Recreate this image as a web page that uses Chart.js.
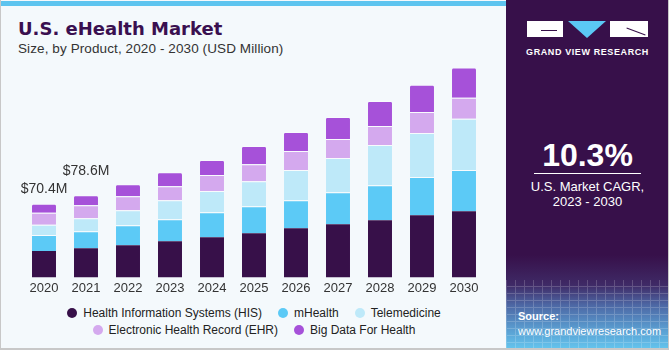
<!DOCTYPE html>
<html>
<head>
<meta charset="utf-8">
<script src="https://cdn.jsdelivr.net/npm/chart.js@4/dist/chart.umd.min.js"></script>
<style>
  html, body { margin:0; padding:0; width:670px; height:350px; overflow:hidden; background:#ffffff; font-family:"Liberation Sans", Arial, sans-serif; }
  #left { position:absolute; left:0; top:0; width:506px; height:350px; background:#f4f9fc; box-sizing:border-box; border-left:1px solid #c8c8c8; border-bottom:2px solid #c8c8c8; }
  #strip { position:absolute; left:0; top:1px; width:506px; height:5px; background:#5dc4ef; }
  #title { position:absolute; left:17px; top:18px; font-family:"DejaVu Sans", sans-serif; font-size:18px; font-weight:bold; color:#3a1050; }
  #subtitle { position:absolute; left:17px; top:41px; font-size:13.5px; color:#333333; letter-spacing:0.1px; }
  #wrap { position:absolute; left:0; top:-1px; width:506px; height:300px; }
  #legend { position:absolute; left:0; top:305px; width:506px; font-size:12px; color:#222; text-align:center; line-height:17px; }
  .li { display:inline-block; margin:0 8px; white-space:nowrap; }
  .dot { display:inline-block; width:10px; height:10px; border-radius:50%; margin-right:6px; vertical-align:-1px; }
  #right { position:absolute; left:506px; top:0; width:163px; height:350px; box-sizing:border-box; border-right:1px solid #c8c8c8; border-bottom:2px solid #c8c8c8;
    background: linear-gradient(to bottom, #37104a 0px, #37104a 255px, #3f2a66 285px, #4d67a4 305px, #5a9fd2 330px, #63c3ec 348px); overflow:hidden; }
  #grid { position:absolute; left:0; top:280px; width:163px; height:70px; opacity:0.18;
    background-image: repeating-linear-gradient(90deg, #ffffff 0 1px, transparent 1px 9px), repeating-linear-gradient(0deg, #ffffff 0 1px, transparent 1px 7px); }
  .logo { position:absolute; background:#ffffff; }
  .gl { position:absolute; background:#37104a; }
  #tri { position:absolute; left:62px; top:21px; width:0; height:0; border-left:19px solid transparent; border-right:19px solid transparent; border-top:17px solid #5bc8f5; }
  #gvr { position:absolute; left:0; width:163px; top:47px; text-align:center; font-size:9px; font-weight:bold; color:#ffffff; letter-spacing:0.6px; }
  #cagr { position:absolute; left:0; width:163px; top:137px; text-align:center; font-size:32px; font-weight:bold; color:#ffffff; }
  #line { position:absolute; left:28px; top:173px; width:107px; height:1px; background:#ffffff; }
  #cagrtxt { position:absolute; left:0; width:163px; top:179px; text-align:center; font-size:13px; color:#ffffff; line-height:15px; }
  #src { position:absolute; left:12px; top:309px; font-size:11px; color:#ffffff; line-height:15px; }
</style>
</head>
<body>
<div id="left">
  <div id="strip"></div>
  <div id="title">U.S. eHealth Market</div>
  <div id="subtitle">Size, by Product, 2020 - 2030 (USD Million)</div>
  <div id="wrap"><canvas id="c" width="506" height="300"></canvas></div>
  <div id="legend"></div>
</div>
<div id="right">
  <div id="grid"></div>
  <div class="logo" style="left:21px; top:21px; width:36px; height:16px;"></div>
  <div class="gl" style="left:35px; top:30px; width:16px; height:1px;"></div>
  <div id="tri"></div>
  <div class="logo" style="left:104px; top:21px; width:38px; height:16px;"></div>
  <div class="gl" style="left:120px; top:31px; width:20px; height:1px; transform:rotate(20deg);"></div>
  <div id="gvr">GRAND VIEW RESEARCH</div>
  <div id="cagr">10.3%</div>
  <div id="line"></div>
  <div id="cagrtxt">U.S. Market CAGR,<br>2023 - 2030</div>
  <div id="src"><b>Source:</b><br>www.grandviewresearch.com</div>
</div>
<script>
const years = ["2020","2021","2022","2023","2024","2025","2026","2027","2028","2029","2030"];
const seriesNames = ["Health Information Systems (HIS)","mHealth","Telemedicine","Electronic Health Record (EHR)","Big Data For Health"];
const seriesColors = ["#371049","#5ccaf6","#bee9f9","#d4a9ee","#a651d9"];
const his      = [25.3, 27.8, 30.7, 34.6, 38.4, 42.2, 47.0, 50.9, 54.7, 59.5, 63.4];
const mhealth  = [15.4, 16.3, 19.2, 21.1, 24.0, 25.9, 26.9, 30.7, 33.6, 36.5, 39.4];
const tele     = [9.6, 12.5, 14.4, 18.2, 20.2, 24.0, 28.8, 32.6, 38.4, 42.2, 49.0];
const ehr      = [11.5, 12.5, 13.4, 13.4, 15.4, 16.3, 18.2, 18.2, 18.2, 20.2, 20.2];
const bigdata  = [8.6, 9.6, 11.5, 13.4, 14.4, 17.3, 18.2, 21.1, 24.0, 25.9, 28.8];
const totalLabels = ["$70.4M", "$78.6M"];

const seriesValues = [his, mhealth, tele, ehr, bigdata];

const datasets = seriesValues.map((vals, i) => ({
  label: seriesNames[i],
  data: vals,
  backgroundColor: seriesColors[i],
  borderColor: "rgba(255,255,255,0.35)",
  borderWidth: i === 0 ? 0 : {top: 1, bottom: 0, left: 0, right: 0},
  borderSkipped: false,
  borderRadius: i === seriesValues.length - 1 ? {topLeft: 2, topRight: 2} : 0,
  barPercentage: 0.571,
  categoryPercentage: 1.0
}));

const labelGaps = [11, 20];
const labelPlugin = {
  id: "totals",
  afterDatasetsDraw(chart) {
    const ctx = chart.ctx;
    const meta = chart.getDatasetMeta(seriesValues.length - 1);
    ctx.save();
    ctx.font = "14px 'Liberation Sans', Arial, sans-serif";
    ctx.fillStyle = "#333333";
    ctx.textAlign = "center";
    ctx.textBaseline = "alphabetic";
    totalLabels.forEach((t, i) => {
      const bar = meta.data[i];
      ctx.fillText(t, bar.x, bar.y - labelGaps[i]);
    });
    ctx.restore();
  }
};

new Chart(document.getElementById("c"), {
  type: "bar",
  data: { labels: years, datasets },
  options: {
    responsive: false,
    animation: false,
    layout: { padding: { left: 22, right: 22, top: 59, bottom: 0 } },
    plugins: { legend: { display: false }, tooltip: { enabled: false } },
    scales: {
      x: {
        stacked: true,
        grid: { display: false, drawTicks: false },
        border: { display: false },
        ticks: { color: "#333333", font: { size: 13, family: "'Liberation Sans', Arial, sans-serif" }, padding: 3, maxRotation: 0 }
      },
      y: {
        stacked: true,
        display: false,
        min: 0,
        max: 210
      }
    }
  },
  plugins: [labelPlugin]
});

const lg = document.getElementById("legend");
const rows = [[0,1,2],[3,4]];
rows.forEach(r => {
  const div = document.createElement("div");
  r.forEach(i => {
    const s = document.createElement("span");
    s.className = "li";
    s.innerHTML = '<span class="dot" style="background:' + seriesColors[i] + '"></span>' + seriesNames[i];
    div.appendChild(s);
  });
  lg.appendChild(div);
});
</script>
</body>
</html>
